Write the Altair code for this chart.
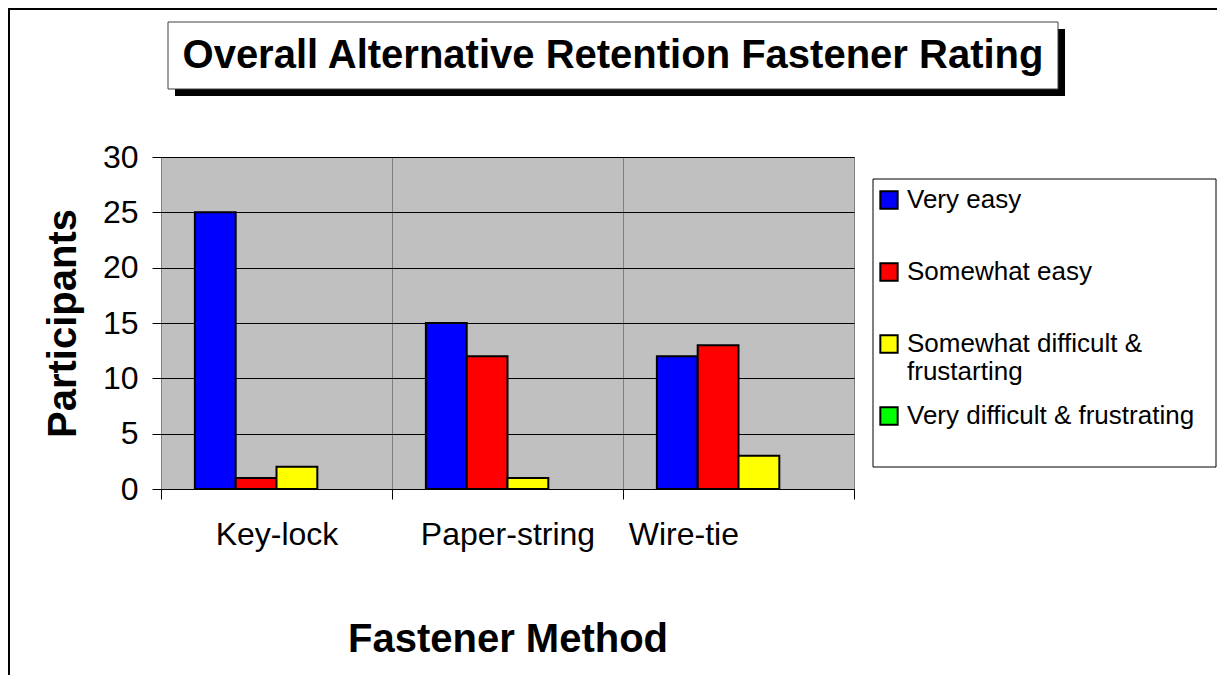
import altair as alt
import pandas as pd

methods = ["Key-lock", "Paper-string", "Wire-tie"]
ratings = ["Very easy", "Somewhat easy", "Somewhat difficult & frustarting", "Very difficult & frustrating"]
very_easy = [25, 15, 12]
somewhat_easy = [1, 12, 13]
somewhat_difficult = [2, 1, 3]
very_difficult = [0, 0, 0]
colors = ["#0000FF", "#FF0000", "#FFFF00", "#00FF00"]
y_ticks = [0, 5, 10, 15, 20, 25, 30]
title_text = "Overall Alternative Retention Fastener Rating"
wrap_first = "Somewhat difficult &"
wrap_second = "frustarting"

rows = []
for series, vals in zip(ratings, [very_easy, somewhat_easy, somewhat_difficult, very_difficult]):
    for m, v in zip(methods, vals):
        rows.append({"Method": m, "Rating": series, "Participants": v})
df = pd.DataFrame(rows)
one = pd.DataFrame({"k": [0]})

FONT = "Liberation Sans"
W, H = 693, 332

bars = alt.Chart(df).mark_bar(stroke="black").encode(
    x=alt.X("Method:N", sort=methods,
            scale=alt.Scale(paddingInner=0, paddingOuter=0),
            axis=alt.Axis(title="Fastener Method", labelAngle=0, tickBand="extent",
                          grid=True, gridColor="#808080", gridWidth=1, gridOpacity=1,
                          domain=False, ticks=True, tickColor="black", tickSize=10,
                          labelFontSize=32, labelFont=FONT, labelColor="black",
                          labelPadding=20, labelBaseline="top",
                          labelAlign={"condition": {"test": "datum.value == 'Wire-tie'", "value": "right"},
                                      "value": "center"},
                          titleFontSize=40, titleFont=FONT, titleFontWeight="bold",
                          titleColor="black", titleX=W / 2, titleY=162,
                          titleBaseline="alphabetic", titleAlign="center")),
    xOffset=alt.XOffset("Rating:N", sort=ratings,
                        scale=alt.Scale(paddingOuter=0.83, paddingInner=0)),
    y=alt.Y("Participants:Q",
            scale=alt.Scale(domain=[0, 30], nice=False),
            axis=alt.Axis(values=y_ticks, grid=True, gridColor="black", gridWidth=1,
                          gridOpacity=1, domain=False, tickColor="black", tickSize=9,
                          labelFontSize=32, labelFont=FONT, labelColor="black",
                          labelPadding=14, title="Participants", titleFontSize=40,
                          titleFont=FONT, titleFontWeight="bold", titleColor="black",
                          titleAngle=270, titleX=-86, titleY=H / 2,
                          titleBaseline="alphabetic", titleAlign="center")),
    strokeWidth=alt.condition("datum.Participants > 0", alt.value(2), alt.value(0)),
    color=alt.Color("Rating:N", sort=ratings,
                    scale=alt.Scale(domain=ratings, range=colors),
                    legend=alt.Legend(title=None, orient="none", legendX=715, legendY=30,
                                      padding=0, symbolType="square", symbolSize=300,
                                      symbolStrokeColor="black", symbolStrokeWidth=2,
                                      symbolOpacity=1,
                                      labelFontSize=26, labelFont=FONT, labelColor="black",
                                      labelOffset=5, rowPadding=46, labelLimit=400,
                                      labelExpr=f"datum.label == '{ratings[2]}' ? '{wrap_first}' : datum.label")),
)

border = alt.Chart(one).mark_rect(fill=None, stroke="black", strokeWidth=2).encode(
    x=alt.value(-152), x2=alt.value(3000), y=alt.value(-148), y2=alt.value(3000))
shadow = alt.Chart(one).mark_rect(fill="black").encode(
    x=alt.value(14), x2=alt.value(904), y=alt.value(-128), y2=alt.value(-61))
tbox = alt.Chart(one).mark_rect(fill="white", stroke="#404040", strokeWidth=1).encode(
    x=alt.value(7), x2=alt.value(897), y=alt.value(-135), y2=alt.value(-68))
ttext = alt.Chart(one).mark_text(text=title_text, font=FONT, fontSize=40, fontWeight="bold",
                                 color="black", align="center", baseline="middle").encode(
    x=alt.value(452), y=alt.value(-101))
lbox = alt.Chart(one).mark_rect(fill="white", stroke="black", strokeWidth=1).encode(
    x=alt.value(712), x2=alt.value(1055), y=alt.value(22), y2=alt.value(310))
wrap2 = alt.Chart(one).mark_text(text=wrap_second, font=FONT, fontSize=26, color="black",
                                 align="left", baseline="middle").encode(
    x=alt.value(746), y=alt.value(215))

chart = alt.layer(border, shadow, tbox, ttext, lbox, wrap2, bars).properties(
    width=W, height=H,
    autosize=alt.AutoSizeParams(type="none"),
    padding={"left": 153, "top": 149, "right": 363, "bottom": 186},
    background="white",
).configure_view(fill="#C0C0C0", stroke="#808080", strokeWidth=1)

chart.save("out.html", embed_options={"renderer": "svg", "actions": False})
